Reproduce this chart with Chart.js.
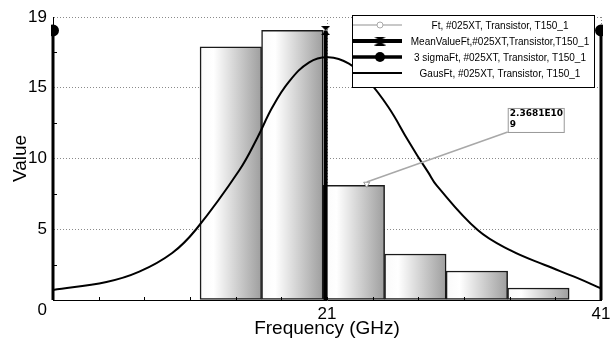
<!DOCTYPE html>
<html lang="en">
<head>
<meta charset="UTF-8">
<title>Ft distribution</title>
<script src="https://cdn.jsdelivr.net/npm/chart.js"></script>
<style>
  body { margin: 0; background: #fff; }
  #box { width: 610px; height: 340px; }
</style>
</head>
<body>
<div id="box"><canvas id="myChart"></canvas></div>
<script>
// histogram bins (GHz) and their heights
const binCenters = [13.98, 18.47, 22.96, 27.45, 31.94, 36.43];
const binValues = [17.9, 19.05, 8.1, 3.25, 2.05, 0.85];

// fitted curve
const gausX = [1, 4.9, 7.3, 9.7, 11.45, 14.6, 15.9, 17.0, 18.2, 19.7, 21.1, 22.6, 24.0, 25.5, 26.9, 27.6, 28.4, 29.0, 32.0, 34.4, 36.9, 39.3, 41];
const gausY = [0.71, 1.27, 2.0, 3.32, 5.0, 9.17, 11.43, 13.6, 15.4, 16.8, 17.15, 16.7, 15.5, 13.6, 11.3, 10.2, 9.0, 8.1, 4.94, 3.5, 2.47, 1.55, 0.82];

// mean and +/- 3 sigma markers
const meanFt = 20.9;
const sigmaFt = [1, 41];
const markerTop = 19.05;

// the single Ft point with its note
const ftPoint = [23.9, 8.2];
const ftNote = ['2.3681E10', '9'];

// axes
const xRange = [1, 41];
const xTickValues = [1, 21, 41];
const xTickLabels = ['', '21', '41'];
const xMinorCount = 12;
const yRange = [0, 20];
const yTicks = [0, 5, 10, 15, 20];
const yTickLabels = ['0', '5', '10', '15', '19'];
const yMinorTicks = [2.5, 7.5, 12.5, 17.5];

const legendLabels = [
    'Ft, #025XT, Transistor, T150_1',
    'MeanValueFt,#025XT,Transistor,T150_1',
    '3 sigmaFt, #025XT, Transistor, T150_1',
    'GausFt, #025XT, Transistor, T150_1'
];

Chart.defaults.font.family = '"Liberation Sans", Arial, sans-serif';
Chart.defaults.color = '#000';

// hourglass marker for the mean line
function hourglass(w, h) {
    const c = document.createElement('canvas');
    c.width = w; c.height = h;
    const g = c.getContext('2d');
    g.fillStyle = '#000';
    g.beginPath();
    g.moveTo(0, 0); g.lineTo(w, 0); g.lineTo(w / 2, h / 2); g.closePath();
    g.moveTo(0, h); g.lineTo(w, h); g.lineTo(w / 2, h / 2); g.closePath();
    g.fill();
    return c;
}
const meanMark = hourglass(9, 9);

function barFill(c) {
    const s = c.chart.scales.x;
    if (!s || c.dataIndex === undefined) return '#ccc';
    const half = (binCenters[1] - binCenters[0]) / 2;
    const x0 = s.getPixelForValue(binCenters[c.dataIndex] - half);
    const x1 = s.getPixelForValue(binCenters[c.dataIndex] + half);
    if (!isFinite(x0) || !isFinite(x1) || x1 <= x0) return '#ccc';
    const g = c.chart.ctx.createLinearGradient(x0, 0, x1, 0);
    g.addColorStop(0, '#fafafa');
    g.addColorStop(0.22, '#ffffff');
    g.addColorStop(1, '#9e9e9e');
    return g;
}

// inner ticks, the note on the Ft point and the boxed legend
const extras = {
    id: 'extras',
    afterDatasetsDraw(chart) {
        const {ctx, chartArea: a, scales: {x, y}} = chart;
        ctx.save();
        ctx.strokeStyle = '#000';
        ctx.lineWidth = 1;
        ctx.beginPath();
        for (let i = 1; i < xMinorCount; i++) {
            const v = xRange[0] + (xRange[1] - xRange[0]) * i / xMinorCount;
            const px = Math.round(x.getPixelForValue(v)) + 0.5;
            ctx.moveTo(px, a.bottom); ctx.lineTo(px, a.bottom - 3);
        }
        yMinorTicks.forEach(v => {
            const py = Math.round(y.getPixelForValue(v)) + 0.5;
            ctx.moveTo(a.left, py); ctx.lineTo(a.left + 4, py);
        });
        ctx.stroke();

        const px = x.getPixelForValue(ftPoint[0]);
        const py = y.getPixelForValue(ftPoint[1]);
        const bx = px + 141, by = py - 76, bw = 56, bh = 24;
        ctx.strokeStyle = '#a8a8a8';
        ctx.lineWidth = 1.5;
        ctx.beginPath();
        ctx.moveTo(px, py - 2); ctx.lineTo(bx, by + bh);
        ctx.stroke();
        ctx.fillStyle = '#fff';
        ctx.fillRect(bx, by, bw, bh);
        ctx.lineWidth = 1;
        ctx.strokeStyle = '#999';
        ctx.strokeRect(bx + 0.5, by + 0.5, bw, bh);
        ctx.fillStyle = '#000';
        ctx.font = 'bold 9px "DejaVu Sans"';
        ctx.textBaseline = 'middle';
        ctx.textAlign = 'left';
        ftNote.forEach((t, i) => ctx.fillText(t, bx + 2, by + 6 + i * 11));
        ctx.restore();
    },
    afterDraw(chart) {
        const ctx = chart.ctx;
        const lx = 352, ly = 15, lw = 242, lh = 72;
        ctx.save();
        ctx.fillStyle = '#fff';
        ctx.fillRect(lx, ly, lw, lh);
        ctx.strokeStyle = '#000';
        ctx.lineWidth = 1;
        ctx.strokeRect(lx + 0.5, ly + 0.5, lw, lh);
        const styles = [
            {color: '#c8c8c8', width: 2},
            {color: '#000', width: 4},
            {color: '#000', width: 3.5},
            {color: '#000', width: 2}
        ];
        legendLabels.forEach((label, i) => {
            const ry = ly + 10 + i * 16;
            ctx.strokeStyle = styles[i].color;
            ctx.lineWidth = styles[i].width;
            ctx.beginPath();
            ctx.moveTo(lx + 1, ry); ctx.lineTo(lx + 50, ry);
            ctx.stroke();
            const mx = lx + 28;
            if (i === 0) {
                ctx.fillStyle = '#fff';
                ctx.strokeStyle = '#aaa';
                ctx.lineWidth = 1;
                ctx.beginPath(); ctx.arc(mx, ry, 3, 0, Math.PI * 2); ctx.fill(); ctx.stroke();
            } else if (i === 1) {
                ctx.drawImage(meanMark, mx - 6, ry - 4.5, 12, 9);
            } else if (i === 2) {
                ctx.fillStyle = '#000';
                ctx.beginPath(); ctx.arc(mx, ry, 5, 0, Math.PI * 2); ctx.fill();
            }
            ctx.fillStyle = '#000';
            ctx.font = '10px "Liberation Sans", Arial, sans-serif';
            ctx.textAlign = 'center';
            ctx.textBaseline = 'middle';
            ctx.fillText(label, lx + 148, ry + 1);
        });
        ctx.restore();
    }
};

const ctx = document.getElementById('myChart').getContext('2d');
new Chart(ctx, {
    type: 'line',
    data: {
        datasets: [
            {
                label: legendLabels[0],
                data: [{x: ftPoint[0], y: ftPoint[1]}],
                showLine: false,
                pointStyle: 'triangle',
                rotation: 180,
                pointRadius: 3.5,
                borderWidth: 1,
                borderColor: '#999',
                backgroundColor: '#fff',
                order: 0
            },
            {
                label: legendLabels[1],
                data: [{x: meanFt, y: 0}, {x: meanFt, y: markerTop}],
                borderColor: '#000',
                borderWidth: 4,
                pointRadius: [0, 5],
                pointStyle: meanMark,
                order: 1
            },
            {
                label: legendLabels[2],
                data: [{x: sigmaFt[0], y: 0}, {x: sigmaFt[0], y: markerTop}],
                borderColor: '#000',
                backgroundColor: '#000',
                borderWidth: 3,
                pointRadius: [0, 4.5],
                clip: {left: 2, right: 2, top: 0, bottom: 0},
                order: 1
            },
            {
                label: legendLabels[2],
                data: [{x: sigmaFt[1], y: 0}, {x: sigmaFt[1], y: markerTop}],
                borderColor: '#000',
                backgroundColor: '#000',
                borderWidth: 3,
                pointRadius: [0, 4.5],
                clip: {left: 2, right: 2, top: 0, bottom: 0},
                order: 1
            },
            {
                label: legendLabels[3],
                data: gausX.map((x, i) => ({x: x, y: gausY[i]})),
                borderColor: '#000',
                borderWidth: 2,
                pointRadius: 0,
                tension: 0.4,
                order: 2
            },
            {
                type: 'bar',
                label: 'bins',
                data: binCenters.map((x, i) => ({x: x, y: binValues[i]})),
                backgroundColor: barFill,
                borderColor: '#1a1a1a',
                borderWidth: 1.5,
                borderSkipped: false,
                barPercentage: 1,
                categoryPercentage: 1,
                order: 9
            }
        ]
    },
    options: {
        responsive: true,
        maintainAspectRatio: false,
        animation: false,
        layout: {padding: {top: 17, right: 6, left: 0, bottom: 0}},
        plugins: {legend: {display: false}, tooltip: {enabled: false}},
        scales: {
            x: {
                type: 'linear',
                min: xRange[0],
                max: xRange[1],
                offset: false,
                afterBuildTicks: s => { s.ticks = xTickValues.map(v => ({value: v})); },
                afterFit: s => { s.height = 40; s.paddingLeft = 0; s.paddingRight = 0; },
                ticks: {
                    autoSkip: false,
                    maxRotation: 0,
                    padding: 4,
                    font: {size: 17},
                    callback: (v, i) => xTickLabels[i]
                },
                grid: {
                    offset: false,
                    drawTicks: false,
                    color: c => (c.tick && xTickLabels[c.index]) ? '#8a8a8a' : 'rgba(0,0,0,0)'
                },
                border: {color: '#000', width: 1, dash: [1, 2]},
                title: {display: true, text: 'Frequency (GHz)', font: {size: 19}, padding: {top: 0, bottom: 0}}
            },
            y: {
                min: yRange[0],
                max: yRange[1],
                afterBuildTicks: s => { s.ticks = yTicks.map(v => ({value: v})); },
                afterFit: s => { s.width = 53; s.paddingTop = 0; s.paddingBottom = 0; },
                ticks: {
                    padding: 6,
                    font: {size: 17},
                    callback: (v, i) => i === 0 ? ['', yTickLabels[i]] : yTickLabels[i]
                },
                grid: {
                    drawTicks: false,
                    color: c => (c.tick && c.tick.value > 0) ? '#8a8a8a' : 'rgba(0,0,0,0)'
                },
                border: {color: '#000', width: 1, dash: [1, 2]},
                title: {display: true, text: 'Value', font: {size: 19}, padding: {top: 9, bottom: 0}}
            }
        }
    },
    plugins: [extras]
});
</script>
</body>
</html>
